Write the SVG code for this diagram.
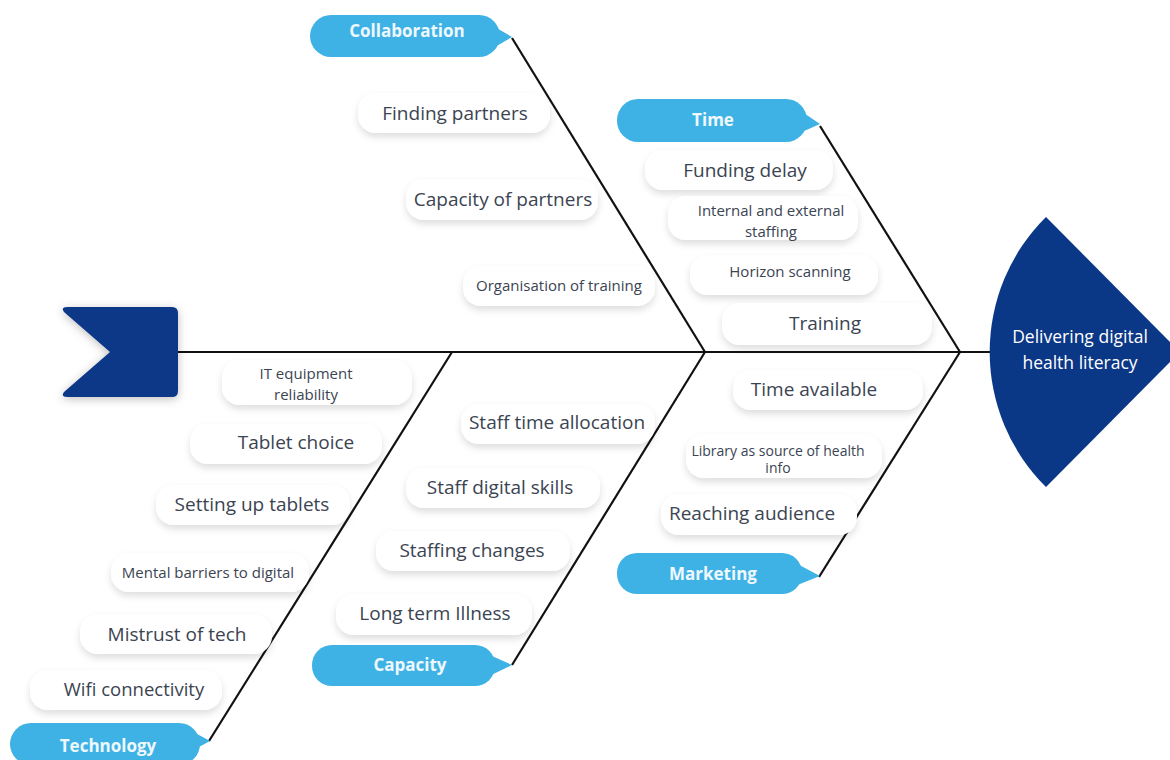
<svg xmlns="http://www.w3.org/2000/svg" width="1170" height="760" viewBox="0 0 1170 760">
<defs>
<filter id="sh" x="-20%" y="-40%" width="140%" height="190%">
<feDropShadow dx="0" dy="4" stdDeviation="3.5" flood-color="#000" flood-opacity="0.13"/>
</filter>
<filter id="glow" x="-30%" y="-30%" width="160%" height="160%">
<feDropShadow dx="0" dy="2" stdDeviation="5" flood-color="#000" flood-opacity="0.25"/>
</filter>
</defs>
<style>
.bone{stroke:#111;stroke-width:2.2;fill:none}
.lbl{fill:#fff;filter:url(#sh)}
.t{font-family:"Open Sans","Liberation Sans",sans-serif;fill:#3b4452;text-anchor:middle}
.big{font-size:19px}
.mid{font-size:18.5px}
.sm{font-size:15px}
.xs{font-size:14px}
.cat{fill:#3fb2e5}
.ct{font-family:"Open Sans","Liberation Sans",sans-serif;font-weight:bold;font-size:17px;fill:#eef8fd;text-anchor:middle}
.navy{fill:#0b3787}
</style>
<rect width="1170" height="760" fill="#fff"/>

<g id="connectors">
<line class="bone" x1="178" y1="352" x2="990" y2="352"/>
<line class="bone" x1="512" y1="38" x2="705" y2="352"/>
<line class="bone" x1="705" y1="352" x2="512" y2="665"/>
<line class="bone" x1="820" y1="126" x2="960" y2="352"/>
<line class="bone" x1="960" y1="352" x2="819" y2="577"/>
<line class="bone" x1="452" y1="352" x2="209" y2="741"/>
</g>

<g id="tail">
<path class="navy" filter="url(#glow)" d="M68,307 H172 Q178,307 178,313 V391 Q178,397 172,397 H68 Q60,397 64,392 L110,352 L64,312 Q60,307 68,307 Z"/>
</g>

<g id="head">
<path class="navy" d="M1180,352 L1046,217 A190,190 0 0 0 1046,487 Z"/>
<text class="t" style="fill:#fff;font-size:17.5px" x="1080" y="343">Delivering digital</text>
<text class="t" style="fill:#fff;font-size:17.5px" x="1080" y="369">health literacy</text>
</g>

<g id="cat-collaboration">
<rect class="cat" x="310" y="15" width="190" height="42" rx="21"/>
<polygon class="cat" points="488,23 512,37 488,51"/>
<text class="ct" x="407" y="37">Collaboration</text>
</g>
<g id="cat-time">
<rect class="cat" x="617" y="99" width="190" height="43" rx="21"/>
<polygon class="cat" points="795,107 820,124 795,135"/>
<text class="ct" x="713" y="126">Time</text>
</g>
<g id="cat-technology">
<rect class="cat" x="10" y="723" width="190" height="42" rx="21"/>
<polygon class="cat" points="188,729 210,741 188,753"/>
<text class="ct" x="108" y="752">Technology</text>
</g>
<g id="cat-capacity">
<rect class="cat" x="312" y="645" width="183" height="41" rx="20"/>
<polygon class="cat" points="483,652 512,665 483,679"/>
<text class="ct" x="410" y="671">Capacity</text>
</g>
<g id="cat-marketing">
<rect class="cat" x="617" y="553" width="185" height="41" rx="20"/>
<polygon class="cat" points="790,560 820,576 790,588"/>
<text class="ct" x="713" y="580">Marketing</text>
</g>

<g id="c1"><rect class="lbl" x="358" y="93" width="192" height="40" rx="18"/><text class="t big" x="455" y="120">Finding partners</text></g>
<g id="c2"><rect class="lbl" x="406" y="179" width="192" height="41" rx="18"/><text class="t big" x="503" y="206">Capacity of partners</text></g>
<g id="c3"><rect class="lbl" x="463" y="266" width="192" height="40" rx="18"/><text class="t sm" x="559" y="291">Organisation of training</text></g>

<g id="t1"><rect class="lbl" x="645" y="150" width="188" height="40" rx="18"/><text class="t big" x="745" y="177">Funding delay</text></g>
<g id="t2"><rect class="lbl" x="668" y="196" width="190" height="44" rx="18"/><text class="t sm" x="771" y="216">Internal and external</text><text class="t sm" x="771" y="237">staffing</text></g>
<g id="t3"><rect class="lbl" x="690" y="255" width="188" height="40" rx="18"/><text class="t sm" x="790" y="277">Horizon scanning</text></g>
<g id="t4"><rect class="lbl" x="722" y="303" width="210" height="42" rx="18"/><text class="t big" x="825" y="330">Training</text></g>

<g id="k1"><rect class="lbl" x="222" y="360" width="190" height="45" rx="18"/><text class="t sm" x="306" y="379">IT equipment</text><text class="t sm" x="306" y="400">reliability</text></g>
<g id="k2"><rect class="lbl" x="190" y="424" width="192" height="40" rx="18"/><text class="t big" x="296" y="449">Tablet choice</text></g>
<g id="k3"><rect class="lbl" x="156" y="485" width="194" height="40" rx="18"/><text class="t big" x="252" y="511">Setting up tablets</text></g>
<g id="k4"><rect class="lbl" x="111" y="553" width="198" height="39" rx="18"/><text class="t sm" x="208" y="578">Mental barriers to digital</text></g>
<g id="k5"><rect class="lbl" x="80" y="614" width="192" height="40" rx="18"/><text class="t big" x="177" y="641">Mistrust of tech</text></g>
<g id="k6"><rect class="lbl" x="30" y="670" width="192" height="40" rx="18"/><text class="t mid" x="134" y="696">Wifi connectivity</text></g>

<g id="p1"><rect class="lbl" x="461" y="404" width="194" height="40" rx="18"/><text class="t big" x="557" y="429">Staff time allocation</text></g>
<g id="p2"><rect class="lbl" x="406" y="468" width="194" height="40" rx="18"/><text class="t big" x="500" y="494">Staff digital skills</text></g>
<g id="p3"><rect class="lbl" x="376" y="531" width="194" height="40" rx="18"/><text class="t big" x="472" y="557">Staffing changes</text></g>
<g id="p4"><rect class="lbl" x="336" y="594" width="196" height="41" rx="18"/><text class="t big" x="435" y="620">Long term Illness</text></g>

<g id="m1"><rect class="lbl" x="733" y="370" width="190" height="40" rx="18"/><text class="t big" x="814" y="396">Time available</text></g>
<g id="m2"><rect class="lbl" x="686" y="434" width="196" height="44" rx="18"/><text class="t xs" x="778" y="456">Library as source of health</text><text class="t xs" x="778" y="473">info</text></g>
<g id="m3"><rect class="lbl" x="661" y="494" width="196" height="41" rx="18"/><text class="t big" x="752" y="520">Reaching audience</text></g>
</svg>
